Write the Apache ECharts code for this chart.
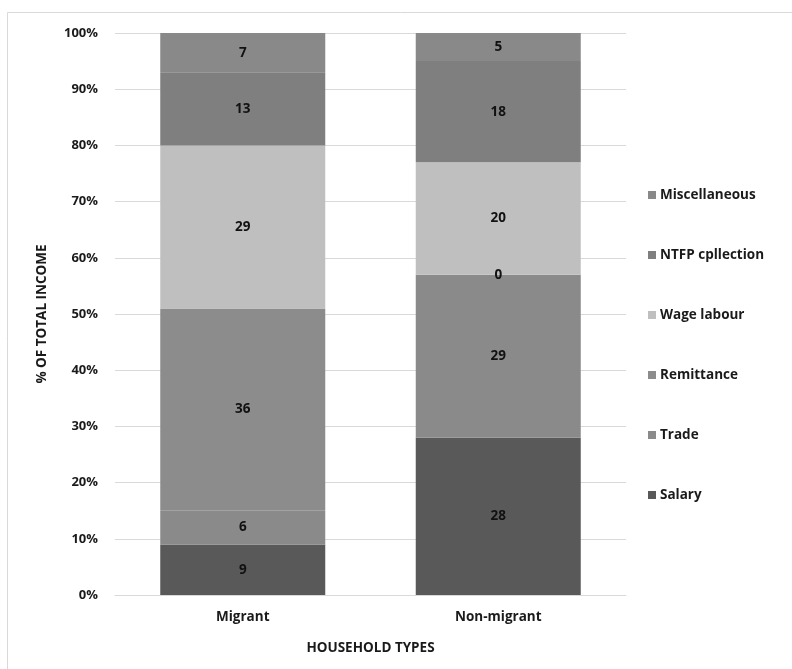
<!DOCTYPE html>
<html>
<head>
<meta charset="utf-8">
<script src="https://cdn.jsdelivr.net/npm/echarts@6/dist/echarts.min.js"></script>
<style>
  html, body { margin: 0; padding: 0; background: #ffffff; }
  #chart { width: 792px; height: 669px; }
</style>
</head>
<body>
<div id="chart"></div>
<script>
// Share of total income by source, per household type
const householdTypes = ['Migrant', 'Non-migrant'];
const salary        = [9, 28];
const trade         = [6, 29];
const remittance    = [36, 0];
const wageLabour    = [29, 20];
const ntfpCollection = [13, 18];
const miscellaneous = [7, 5];
const yTicks = [0, 10, 20, 30, 40, 50, 60, 70, 80, 90, 100];

const sources = [
  { name: 'Salary', data: salary, color: '#595959' },
  { name: 'Trade', data: trade, color: '#8a8a8a' },
  { name: 'Remittance', data: remittance, color: '#8c8c8c' },
  { name: 'Wage labour', data: wageLabour, color: '#bfbfbf' },
  { name: 'NTFP cpllection', data: ntfpCollection, color: '#7f7f7f' },
  { name: 'Miscellaneous', data: miscellaneous, color: '#898989' }
];

const font = '"Open Sans", Lato, sans-serif';
const textColor = '#1a1a1a';
const chart = echarts.init(document.getElementById('chart'));

chart.setOption({
  animation: false,
  backgroundColor: '#ffffff',
  textStyle: { fontFamily: font },
  graphic: [{
    type: 'rect',
    shape: { x: 7.5, y: 12.5, width: 800, height: 700 },
    style: { fill: 'none', stroke: '#d9d9d9', lineWidth: 1 },
    silent: true
  }],
  grid: { left: 115, right: 166, top: 33, bottom: 74 },
  legend: {
    orient: 'vertical',
    left: 643,
    top: 183,
    itemGap: 46,
    itemWidth: 8,
    itemHeight: 8,
    icon: 'rect',
    data: sources.map(s => s.name).reverse(),
    textStyle: { fontFamily: font, fontSize: 13.5, fontWeight: 'bold', color: textColor, padding: [0, 0, 0, -1] }
  },
  xAxis: {
    type: 'category',
    data: householdTypes,
    name: 'HOUSEHOLD TYPES',
    nameLocation: 'middle',
    nameGap: 46,
    nameTextStyle: { fontFamily: font, fontSize: 13.5, fontWeight: 'bold', color: textColor },
    axisLine: { show: true, lineStyle: { color: '#d9d9d9' } },
    axisTick: { show: false },
    axisLabel: { margin: 15, fontFamily: font, fontSize: 13.5, fontWeight: 'bold', color: textColor }
  },
  yAxis: {
    type: 'value',
    min: yTicks[0],
    max: yTicks[yTicks.length - 1],
    interval: 10,
    name: '% OF TOTAL INCOME',
    nameLocation: 'middle',
    nameGap: 66,
    nameRotate: 90,
    nameTextStyle: { fontFamily: font, fontSize: 13.5, fontWeight: 'bold', color: textColor },
    axisLine: { show: false },
    axisTick: { show: false },
    axisLabel: { margin: 17, formatter: v => v + '%', fontFamily: font, fontSize: 13, fontWeight: 'bold', color: textColor },
    splitLine: { lineStyle: { color: '#d9d9d9', width: 1 } }
  },
  series: sources.map(s => ({
    name: s.name,
    type: 'bar',
    stack: 'income',
    barWidth: 165,
    data: s.data,
    itemStyle: { color: s.color },
    label: {
      show: true,
      position: 'inside',
      fontFamily: font,
      fontSize: 13.5,
      fontWeight: 'bold',
      color: '#111'
    },
    emphasis: { disabled: true }
  }))
});
</script>
</body>
</html>
